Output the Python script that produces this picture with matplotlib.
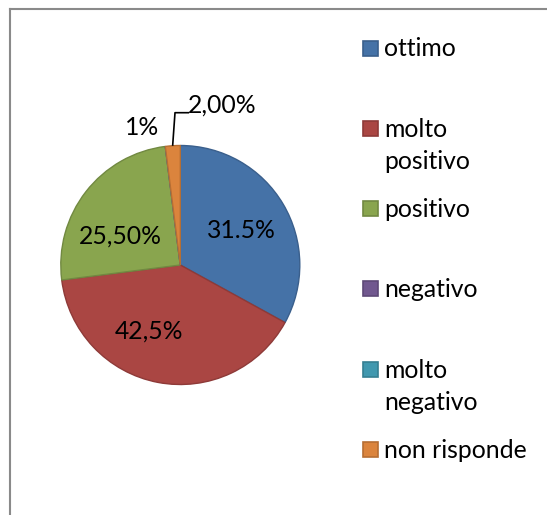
import matplotlib
matplotlib.use('Agg')
import matplotlib.pyplot as plt
from matplotlib.patches import Rectangle
from matplotlib.lines import Line2D

plt.rcParams['font.family'] = ['Lato', 'DejaVu Sans']

# dati (angoli; etichette come nell'originale)
categorie = ['ottimo', 'molto\npositivo', 'positivo', 'negativo', 'molto\nnegativo', 'non risponde']
valori = [33, 40, 25, 0, 0, 2]
colori = ['#4572A7', '#AA4643', '#89A54E', '#71588F', '#4198AF', '#DB843D']
bordi = ['#3A5F8C', '#8E3A38', '#718941', '#5E4977', '#367F92', '#B66E33']
etichette = ['31.5%', '42,5%', '25,50%', '1%', '', '2,00%']

W, H = 547, 515
fs = 17.8
fig = plt.figure(figsize=(W / 100, H / 100), dpi=100)

# cornice grigia (solo bordo sinistro e superiore visibili)
fig.add_artist(Line2D([9.5 / W, 9.5 / W], [0, 1 - 8.5 / H], color='#8a8a8a', lw=1.5))
fig.add_artist(Line2D([9.5 / W, 1], [1 - 8.5 / H, 1 - 8.5 / H], color='#8a8a8a', lw=1.5))

# torta
cx, cy, r = 180.3, 265, 119.5
ax = fig.add_axes([(cx - r) / W, (H - cy - r) / H, 2 * r / W, 2 * r / H])
wedges, _ = ax.pie(valori, colors=colori, startangle=90, counterclock=False,
                   radius=1, wedgeprops=dict(linewidth=1.0))
for w, b in zip(wedges, bordi):
    w.set_edgecolor(b)
ax.set_xlim(-1, 1)
ax.set_ylim(-1, 1)
ax.axis('off')

def px(x, y):
    return (x - cx) / r, (cy - y) / r

pos_etichette = [(241, 231), (149, 331), (120, 236), (142, 127), None, (222, 105)]
for txt, p in zip(etichette, pos_etichette):
    if p is None or not txt:
        continue
    ax.text(*px(*p), txt, ha='center', va='center', fontsize=fs, color='black', clip_on=False)

# linea guida per "2,00%"
punti = [px(172.7, 145), px(175, 112.7), px(188.3, 112.7)]
ax.plot([p[0] for p in punti], [p[1] for p in punti], color='black', lw=1.2, clip_on=False)

# legenda manuale (spaziatura uniforme come in Excel)
y0, passo, riga = 48, 80.3, 32
for i, (cat, c, b) in enumerate(zip(categorie, colori, bordi)):
    yc = y0 + i * passo
    fig.add_artist(Rectangle((363 / W, 1 - (yc + 7.5) / H), 15 / W, 15 / H,
                             facecolor=c, edgecolor=b, lw=1.2))
    for k, parte in enumerate(cat.split('\n')):
        fig.text(384 / W, 1 - (yc - 1 + k * riga) / H, parte, ha='left',
                 va='center_baseline', fontsize=fs, color='black')

fig.savefig('out.png', dpi=100, facecolor='white')
